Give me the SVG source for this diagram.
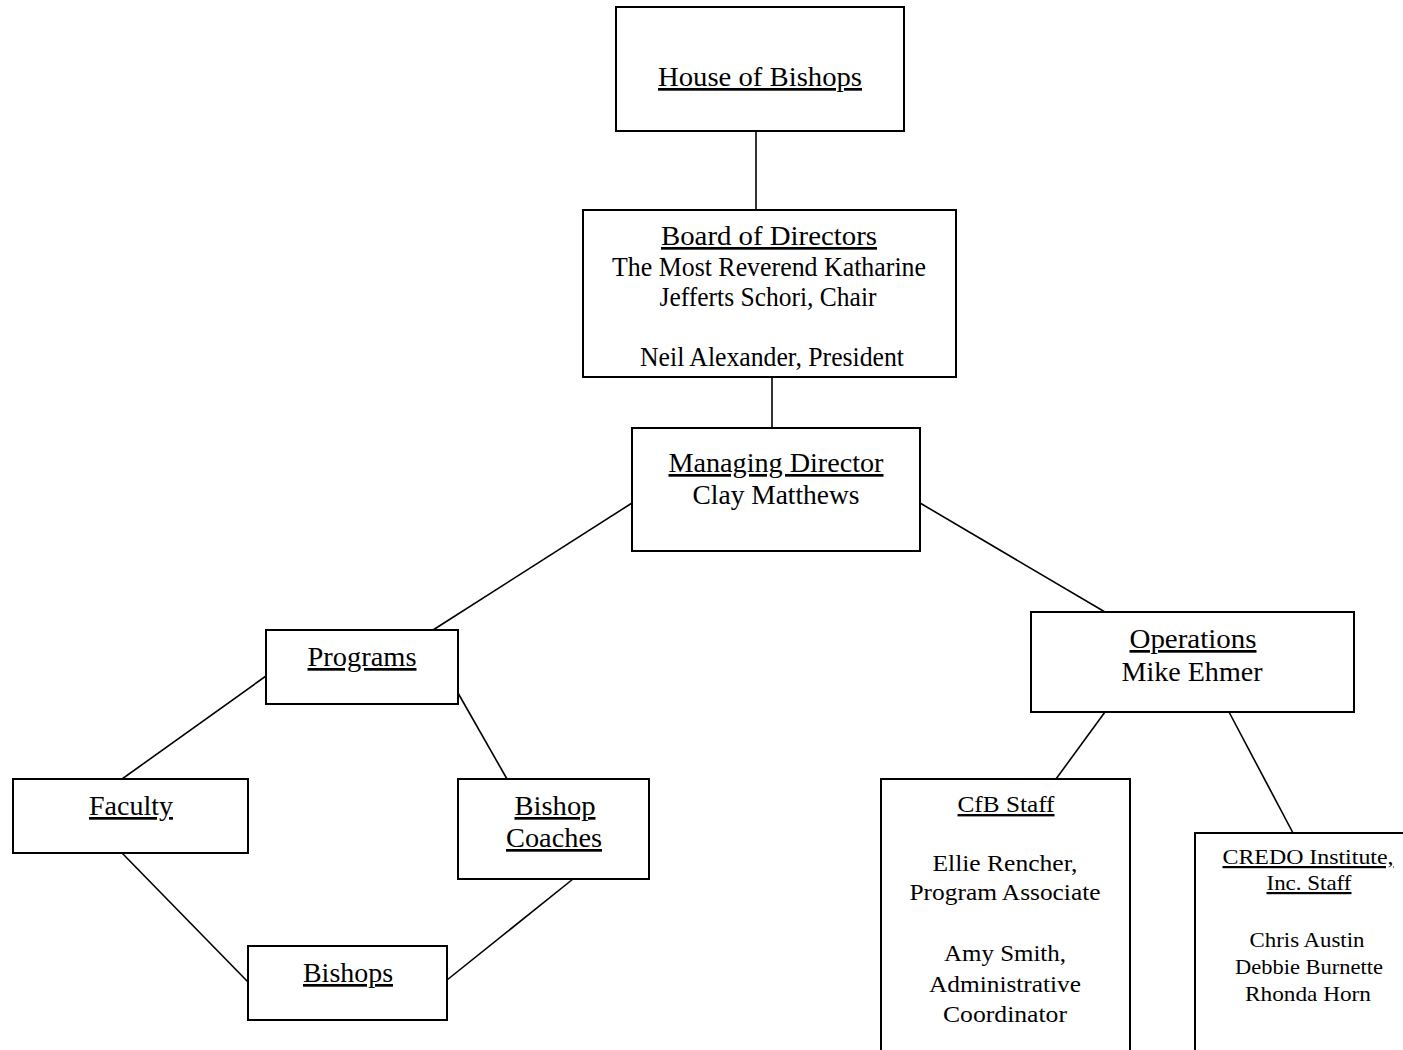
<svg xmlns="http://www.w3.org/2000/svg" width="1403" height="1050" viewBox="0 0 1403 1050">
<style>
.box{fill:#fff;stroke:#000;stroke-width:2}
.c line{stroke:#000;stroke-width:1.6}
text{font-family:"Liberation Serif","Times New Roman",serif;fill:#000;text-anchor:middle}
.t{font-size:27px}
.s2{font-size:24px}
.s{font-size:22px}
.u{text-decoration:underline}
</style>
<rect width="1403" height="1050" fill="#fff"/>
<g class="c" id="connectors">
<line x1="756" y1="131" x2="756" y2="210"/>
<line x1="772" y1="377" x2="772" y2="428"/>
<line x1="632" y1="503" x2="433" y2="630"/>
<line x1="920" y1="503" x2="1105" y2="612"/>
<line x1="266" y1="676" x2="122" y2="779"/>
<line x1="458" y1="693" x2="507" y2="779"/>
<line x1="122" y1="853" x2="248" y2="982"/>
<line x1="573" y1="879" x2="447" y2="980"/>
<line x1="1105" y1="712" x2="1056" y2="779"/>
<line x1="1229" y1="712" x2="1293" y2="833"/>
</g>
<g id="house">
<rect class="box" x="616" y="7" width="288" height="124"/>
<text class="t u" x="760" y="86" textLength="204" lengthAdjust="spacingAndGlyphs">House of Bishops</text>
</g>
<g id="board">
<rect class="box" x="583" y="210" width="373" height="167"/>
<text class="t u" x="769" y="245" textLength="216" lengthAdjust="spacingAndGlyphs">Board of Directors</text>
<text class="t" x="769" y="276" textLength="314" lengthAdjust="spacingAndGlyphs">The Most Reverend Katharine</text>
<text class="t" x="768" y="306" textLength="217" lengthAdjust="spacingAndGlyphs">Jefferts Schori, Chair</text>
<text class="t" x="772" y="366" textLength="264" lengthAdjust="spacingAndGlyphs">Neil Alexander, President</text>
</g>
<g id="managing">
<rect class="box" x="632" y="428" width="288" height="123"/>
<text class="t u" x="776" y="472" textLength="215" lengthAdjust="spacingAndGlyphs">Managing Director</text>
<text class="t" x="776" y="504" textLength="167" lengthAdjust="spacingAndGlyphs">Clay Matthews</text>
</g>
<g id="programs">
<rect class="box" x="266" y="630" width="192" height="74"/>
<text class="t u" x="362" y="666" textLength="109" lengthAdjust="spacingAndGlyphs">Programs</text>
</g>
<g id="faculty">
<rect class="box" x="13" y="779" width="235" height="74"/>
<text class="t u" x="131" y="815" textLength="84" lengthAdjust="spacingAndGlyphs">Faculty</text>
</g>
<g id="coaches">
<rect class="box" x="458" y="779" width="191" height="100"/>
<text class="t u" x="555" y="815" textLength="81" lengthAdjust="spacingAndGlyphs">Bishop</text>
<text class="t u" x="554" y="847" textLength="96" lengthAdjust="spacingAndGlyphs">Coaches</text>
</g>
<g id="bishops">
<rect class="box" x="248" y="946" width="199" height="74"/>
<text class="t u" x="348" y="982" textLength="90" lengthAdjust="spacingAndGlyphs">Bishops</text>
</g>
<g id="operations">
<rect class="box" x="1031" y="612" width="323" height="100"/>
<text class="t u" x="1193" y="648" textLength="127" lengthAdjust="spacingAndGlyphs">Operations</text>
<text class="t" x="1192" y="681" textLength="141" lengthAdjust="spacingAndGlyphs">Mike Ehmer</text>
</g>
<g id="cfb">
<rect class="box" x="881" y="779" width="249" height="290"/>
<text class="s2 u" x="1006" y="812" textLength="97" lengthAdjust="spacingAndGlyphs">CfB Staff</text>
<text class="s2" x="1005" y="871" textLength="145" lengthAdjust="spacingAndGlyphs">Ellie Rencher,</text>
<text class="s2" x="1005" y="900" textLength="191" lengthAdjust="spacingAndGlyphs">Program Associate</text>
<text class="s2" x="1005" y="961" textLength="122" lengthAdjust="spacingAndGlyphs">Amy Smith,</text>
<text class="s2" x="1005" y="992" textLength="152" lengthAdjust="spacingAndGlyphs">Administrative</text>
<text class="s2" x="1005" y="1022" textLength="124" lengthAdjust="spacingAndGlyphs">Coordinator</text>
</g>
<g id="credo">
<rect class="box" x="1195" y="833" width="230" height="240"/>
<text class="s u" x="1308" y="864" textLength="171" lengthAdjust="spacingAndGlyphs">CREDO Institute,</text>
<text class="s u" x="1309" y="890" textLength="85" lengthAdjust="spacingAndGlyphs">Inc. Staff</text>
<text class="s" x="1307" y="947" textLength="115" lengthAdjust="spacingAndGlyphs">Chris Austin</text>
<text class="s" x="1309" y="974" textLength="148" lengthAdjust="spacingAndGlyphs">Debbie Burnette</text>
<text class="s" x="1308" y="1001" textLength="126" lengthAdjust="spacingAndGlyphs">Rhonda Horn</text>
</g>
</svg>
